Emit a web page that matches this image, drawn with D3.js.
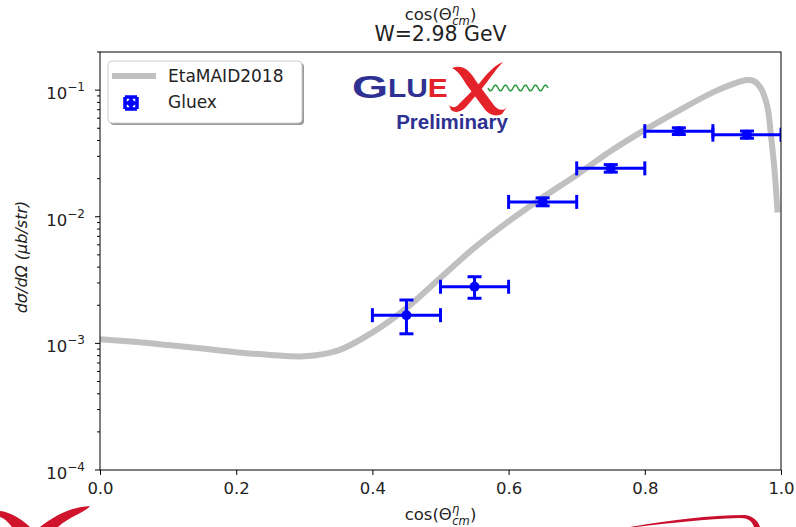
<!DOCTYPE html>
<html><head><meta charset="utf-8">
<script src="https://cdn.jsdelivr.net/npm/d3@7/dist/d3.min.js"></script>
<style>body{margin:0;background:#fff}svg{display:block}</style>
</head><body>
<svg id="chart" width="796" height="527"></svg>
<script>
// ---- data ----
const modelX = [0, 0.05, 0.1, 0.15, 0.2, 0.25, 0.3, 0.35, 0.4, 0.45, 0.5, 0.55, 0.6, 0.65, 0.7, 0.75, 0.8, 0.85, 0.9, 0.93, 0.95, 0.96, 0.97, 0.98, 0.985, 0.99, 0.995];
const modelY = [1.08e-3, 1.03e-3, 9.7e-4, 9.1e-4, 8.5e-4, 8.1e-4, 7.9e-4, 8.8e-4, 1.22e-3, 1.9e-3, 3.3e-3, 5.7e-3, 9.2e-3, 1.42e-2, 2.14e-2, 3.3e-2, 4.85e-2, 6.9e-2, 9.6e-2, 0.112, 0.12, 0.118, 0.104, 0.074, 0.045, 0.025, 0.0108];
const gluexX = [0.45, 0.55, 0.65, 0.75, 0.85, 0.95];
const gluexXerr = [0.05, 0.05, 0.05, 0.05, 0.05, 0.05];
const gluexY = [1.67e-3, 2.8e-3, 1.31e-2, 2.41e-2, 4.74e-2, 4.45e-2];
const gluexYlo = [1.19e-3, 2.27e-3, 1.22e-2, 2.25e-2, 4.46e-2, 4.17e-2];
const gluexYhi = [2.2e-3, 3.36e-3, 1.41e-2, 2.58e-2, 5.04e-2, 4.75e-2];
const xTicks = [0.0, 0.2, 0.4, 0.6, 0.8, 1.0];
const yTicks = [1e-4, 1e-3, 1e-2, 1e-1];
const yTickExp = ["−4", "−3", "−2", "−1"];
const legendLabels = ["EtaMAID2018", "Gluex"];

// ---- layout ----
const svg = d3.select("#chart");
const L = 100, R = 781, T = 52, B = 470;
const x = d3.scaleLinear().domain([0, 1]).range([L, R]);
const y = d3.scaleLog().domain([1e-4, 0.2]).range([B, T]);
const FONT = "DejaVu Sans, sans-serif";
const BLUE = "#0000ff";

svg.append("defs").append("clipPath").attr("id", "clip")
  .append("rect").attr("x", L).attr("y", T).attr("width", R - L).attr("height", B - T);

// model curve
const line = d3.line().x((d, i) => x(modelX[i])).y(d => y(d)).curve(d3.curveCatmullRom.alpha(0.5));
svg.append("path").datum(modelY).attr("d", line)
  .attr("fill", "none").attr("stroke", "#c0c0c0").attr("stroke-width", 6)
  .attr("clip-path", "url(#clip)");

// data points
const pts = svg.append("g").attr("clip-path", "url(#clip)")
  .attr("stroke", BLUE).attr("stroke-width", 3).attr("fill", BLUE);
const capH = 7, capV = 7;
gluexX.forEach((xv, i) => {
  const cx = x(xv), cy = y(gluexY[i]);
  const x0 = x(xv - gluexXerr[i]), x1 = x(xv + gluexXerr[i]);
  const y0 = y(gluexYlo[i]), y1 = y(gluexYhi[i]);
  pts.append("line").attr("x1", x0).attr("x2", x1).attr("y1", cy).attr("y2", cy);
  pts.append("line").attr("x1", cx).attr("x2", cx).attr("y1", y0).attr("y2", y1);
  pts.append("line").attr("x1", x0).attr("x2", x0).attr("y1", cy - capH).attr("y2", cy + capH);
  pts.append("line").attr("x1", x1).attr("x2", x1).attr("y1", cy - capH).attr("y2", cy + capH);
  pts.append("line").attr("x1", cx - capV).attr("x2", cx + capV).attr("y1", y0).attr("y2", y0);
  pts.append("line").attr("x1", cx - capV).attr("x2", cx + capV).attr("y1", y1).attr("y2", y1);
  pts.append("circle").attr("cx", cx).attr("cy", cy).attr("r", 5).attr("stroke", "none");
});

// axes frame
svg.append("rect").attr("x", L).attr("y", T).attr("width", R - L).attr("height", B - T)
  .attr("fill", "none").attr("stroke", "#000").attr("stroke-width", 1);

// x axis
const gx = svg.append("g").attr("transform", `translate(0,${B})`)
  .call(d3.axisBottom(x).tickValues(xTicks).tickFormat(d3.format(".1f")).tickSize(5).tickPadding(7));
gx.select(".domain").remove();
gx.selectAll("text").attr("font-family", FONT).attr("font-size", 16.5).attr("fill", "#222");

// y axis (log) with minor ticks
const minor = [];
for (let e = -4; e <= -1; e++) for (let m = 2; m <= 9; m++) { const v = m * Math.pow(10, e); if (v <= 0.2) minor.push(v); }
const gy = svg.append("g").attr("transform", `translate(${L},0)`);
gy.selectAll(".minor").data(minor).join("line")
  .attr("x1", -3).attr("x2", 0).attr("y1", d => y(d)).attr("y2", d => y(d)).attr("stroke", "#000");
gy.selectAll(".major").data(yTicks).join("line")
  .attr("x1", -5).attr("x2", 0).attr("y1", d => y(d)).attr("y2", d => y(d)).attr("stroke", "#000");
const yl = gy.selectAll(".lab").data(yTicks).join("text")
  .attr("x", -15).attr("y", d => y(d) + 9).attr("text-anchor", "end")
  .attr("font-family", FONT).attr("font-size", 16.5).attr("fill", "#222");
yl.append("tspan").text("10");
yl.append("tspan").attr("font-size", 12).attr("dy", -8).text((d, i) => yTickExp[i]);

// axis labels & titles
function cosTheta(sel, size) {
  sel.append("tspan").text("cos(Θ");
  sel.append("tspan").attr("font-size", size * 0.7).attr("font-style", "italic").attr("dy", -size * 0.45).text("η");
  sel.append("tspan").attr("font-size", size * 0.7).attr("font-style", "italic").attr("dx", -size * 0.42).attr("dy", size * 0.75).text("cm");
  sel.append("tspan").attr("dy", -size * 0.3).text(")");
}
const xl = svg.append("text").attr("x", (L + R) / 2).attr("y", 520).attr("text-anchor", "middle")
  .attr("font-family", FONT).attr("font-size", 16.5).attr("fill", "#222");
cosTheta(xl, 16.5);
const tl = svg.append("text").attr("x", (L + R) / 2).attr("y", 20).attr("text-anchor", "middle")
  .attr("font-family", FONT).attr("font-size", 16.5).attr("fill", "#222");
cosTheta(tl, 16.5);
svg.append("text").attr("x", (L + R) / 2).attr("y", 41).attr("text-anchor", "middle")
  .attr("font-family", FONT).attr("font-size", 20.5).attr("fill", "#222").text("W=2.98 GeV");
svg.append("text").attr("transform", `translate(27,${(T + B) / 2 - 4}) rotate(-90)`)
  .attr("text-anchor", "middle").attr("font-family", FONT).attr("font-size", 16)
  .attr("font-style", "italic").attr("fill", "#222").text("dσ/dΩ (μb/str)");

// legend
const lg = svg.append("g");
lg.append("rect").attr("x", 110).attr("y", 63).attr("width", 194).attr("height", 62).attr("rx", 4)
  .attr("fill", "#999");
lg.append("rect").attr("x", 108).attr("y", 61).attr("width", 194).attr("height", 62).attr("rx", 4)
  .attr("fill", "#fff").attr("stroke", "#ccc");
lg.append("line").attr("x1", 112).attr("x2", 156).attr("y1", 76).attr("y2", 76)
  .attr("stroke", "#c0c0c0").attr("stroke-width", 6);
const mk = lg.append("g").attr("transform", "translate(131,103)").attr("stroke", BLUE).attr("stroke-width", 3.5);
mk.append("line").attr("x1", -6).attr("x2", 6).attr("y1", 0).attr("y2", 0);
mk.append("line").attr("y1", -6).attr("y2", 6).attr("x1", 0).attr("x2", 0);
[[-6, -6, -6, 6], [6, -6, 6, 6], [-6, -6, 6, -6], [-6, 6, 6, 6]].forEach(c =>
  mk.append("line").attr("x1", c[0]).attr("y1", c[1]).attr("x2", c[2]).attr("y2", c[3]));
mk.append("circle").attr("r", 3.5).attr("fill", BLUE).attr("stroke", "none");
lg.selectAll(".lt").data(legendLabels).join("text")
  .attr("x", 168).attr("y", (d, i) => 82 + i * 26)
  .attr("font-family", FONT).attr("font-size", 17).attr("fill", "#222").text(d => d);

// GlueX logo
const logo = svg.append("g");
const LB = "Liberation Sans, Arial, sans-serif";
logo.append("text").attr("transform", "translate(352,98) scale(1.45,1)")
  .attr("font-family", LB).attr("font-weight", "bold").attr("font-size", 32).attr("fill", "#2e3192").text("G");
const lue = logo.append("text").attr("transform", "translate(388,97) scale(1.15,1)")
  .attr("font-family", LB).attr("font-weight", "bold").attr("font-size", 26).attr("fill", "#2e3192");
lue.append("tspan").text("LU");
lue.append("tspan").attr("fill", "#e3222a").text("E");
// X
logo.append("path").attr("d", "M452,68 C463,64 470,71 476,81 L493,104 C497,110 503,112 507,107 L502,114 C494,118 487,113 483,107 L466,84 C462,77 458,71 452,68 Z")
  .attr("fill", "#e3222a");
logo.append("path").attr("d", "M503,62 C494,65 486,75 478,85 L459,104 C456,108 452,108 449,105 L451,110 C456,114 462,111 466,107 L484,86 C491,77 497,68 503,62 Z")
  .attr("fill", "#e3222a");
// green wave
const wave = d3.range(0, 61).map(i => [488 + i, 88 + 3 * Math.sin(i / 60 * 2 * Math.PI * 6)]);
logo.append("path").attr("d", d3.line()(wave)).attr("fill", "none").attr("stroke", "#2a9a3a").attr("stroke-width", 1.5);
logo.append("text").attr("x", 452).attr("y", 129).attr("text-anchor", "middle")
  .attr("font-family", LB).attr("font-weight", "bold").attr("font-size", 20.5).attr("fill", "#2e3192").text("Preliminary");

// slide decorations (red swooshes)
svg.append("path").attr("d", "M0,511 C10,512 20,518 30,527 L12,527 C8,522 4,518 0,517 Z").attr("fill", "#d0142c");
svg.append("path").attr("d", "M40,527 C55,515 72,507 90,506 C86,512 70,516 58,527 Z").attr("fill", "#d0142c");
svg.append("path").attr("d", "M630,527 C670,520 710,515 745,515 C752,516 758,520 760,527 L754,527 C752,521 748,518 740,518 C705,519 670,523 636,527 Z").attr("fill", "#c8102e");
</script>
</body></html>
